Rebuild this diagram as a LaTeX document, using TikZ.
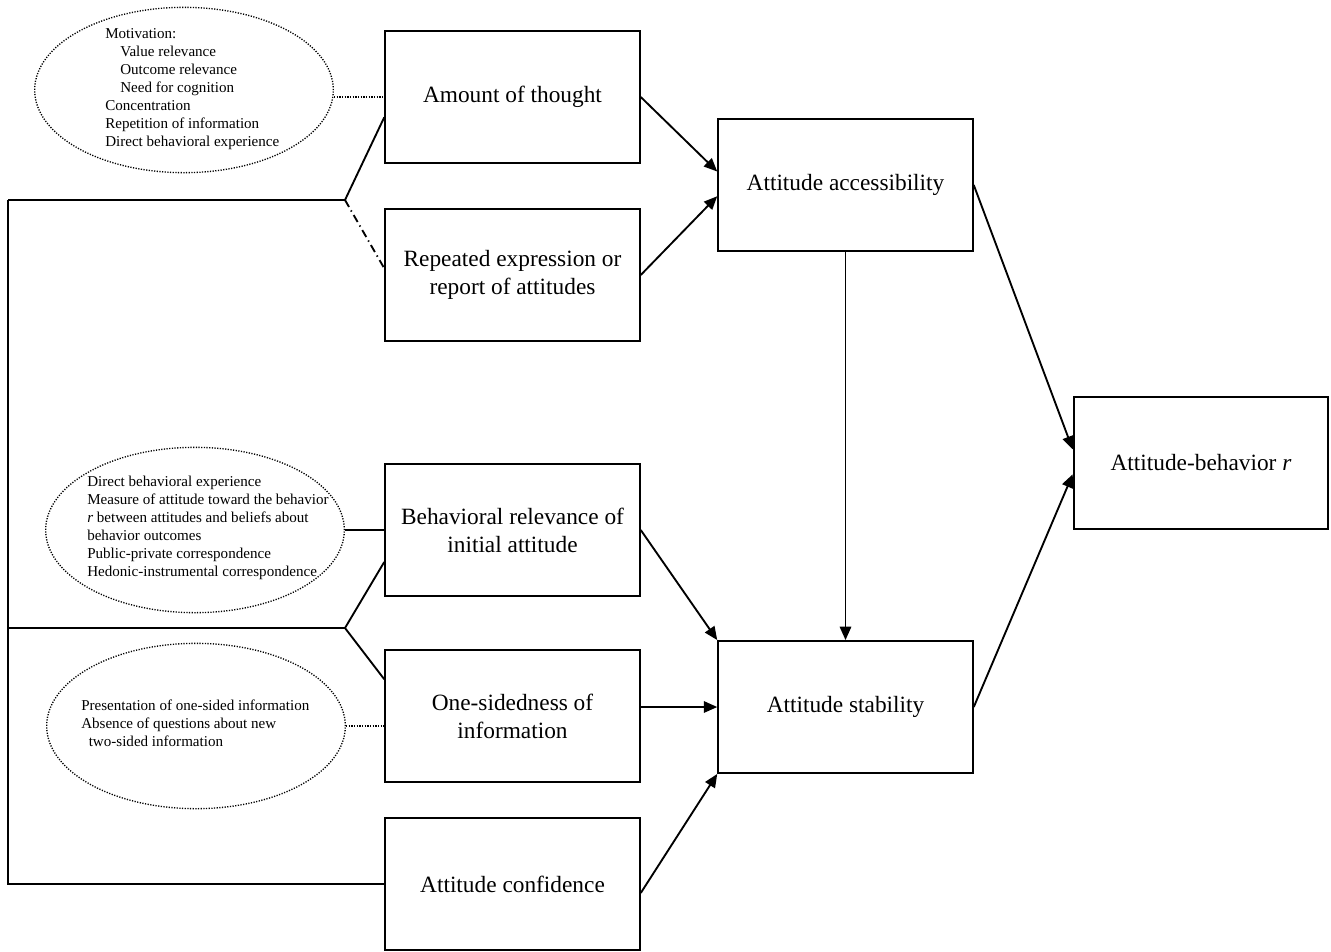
\documentclass[tikz,border=0pt]{standalone}
\usepackage{fontspec}
\setmainfont{Liberation Serif}
\usetikzlibrary{calc,arrows.meta,shapes.geometric}

\tikzset{
  factor/.style={draw, line width=1.4pt, minimum width=191pt, minimum height=99pt,
    align=center, inner sep=2pt, font=\fontsize{17.5}{21}\selectfont},
  oval/.style={draw, ellipse, line width=1pt, dash pattern=on 0.9pt off 1.1pt,
    minimum width=224pt, minimum height=124pt, inner sep=0pt},
  notes/.style={align=left, anchor=west, inner sep=0pt, font=\fontsize{11.3}{13.5}\selectfont},
  link/.style={line width=1.4pt},
  dots/.style={line width=1pt, dash pattern=on 0.9pt off 1.1pt},
  arr/.style={line width=1.4pt, -{Triangle[length=10pt,width=8.5pt]}}
}

\begin{document}
\begin{tikzpicture}[x=0.75pt,y=-0.75pt]
\useasboundingbox (0,0) rectangle (1331,951);

% boxes
\node[factor] (thought) at (512.5,97) {Amount of thought};
\node[factor] (repexpr) at (512.5,275) {Repeated expression or\\report of attitudes};
\node[factor] (access) at (845.5,185) {Attitude accessibility};
\node[factor] (abr) at (1201,463) {Attitude-behavior \textit{r}};
\node[factor] (relev) at (512.5,530) {Behavioral relevance of\\initial attitude};
\node[factor] (onesided) at (512.5,716) {One-sidedness of\\information};
\node[factor] (stab) at (845.5,707) {Attitude stability};
\node[factor] (conf) at (512.5,884) {Attitude confidence};

% ellipses with determinants
\node[oval] (motiv) at (184,90) {};
\node[notes] (motivtxt) at (105,89) {Motivation:\\
  \hspace{1em}Value relevance\\
  \hspace{1em}Outcome relevance\\
  \hspace{1em}Need for cognition\\
  Concentration\\
  Repetition of information\\
  Direct behavioral experience};
\node[oval] (behav) at (195,530) {};
\node[notes] (behavtxt) at (87,528) {Direct behavioral experience\\
  Measure of attitude toward the behavior\\
  \textit{r} between attitudes and beliefs about\\
  behavior outcomes\\
  Public-private correspondence\\
  Hedonic-instrumental correspondence};
\node[oval] (info) at (196,726) {};
\node[notes] (infotxt) at (81,723) {Presentation of one-sided information\\
  Absence of questions about new\\
  \hspace{0.5em}two-sided information};

\draw[dots] (motiv.east |- thought.west) -- (thought.west);
\draw[link] (behav.east) -- (relev.west);
\draw[dots] (info.east) -- (info.east -| onesided.west);

% left bracket
\coordinate (corner) at (8,200);
\coordinate (top) at (345,200);
\coordinate (left) at (8,628);
\coordinate (mid) at (345,628);
\draw[link] (corner) -- (top) -- (thought.189.35);
\draw[link, dash pattern=on 6pt off 3pt on 1pt off 3pt] (top) -- (repexpr.177);
\draw[link] (corner) |- (conf.west);
\draw[link] (left) -- (mid) -- (relev.194.7);
\draw[link] (mid) -- (onesided.164.2);

% arrows
\draw[arr] (thought.east) -- (access.174.4);
\draw[arr] (repexpr.east) -- (access.185.2);
\draw[arr] (access.south) -- (stab.north);
\draw[arr] (access.east) -- (abr.174.3);
\draw[arr] (stab.east) -- (abr.185.7);
\draw[arr] (relev.east) -- (stab.north west);
\draw[arr] (onesided.east |- stab.west) -- (stab.west);
\draw[arr] (conf.356) -- (stab.south west);
\end{tikzpicture}
\end{document}
